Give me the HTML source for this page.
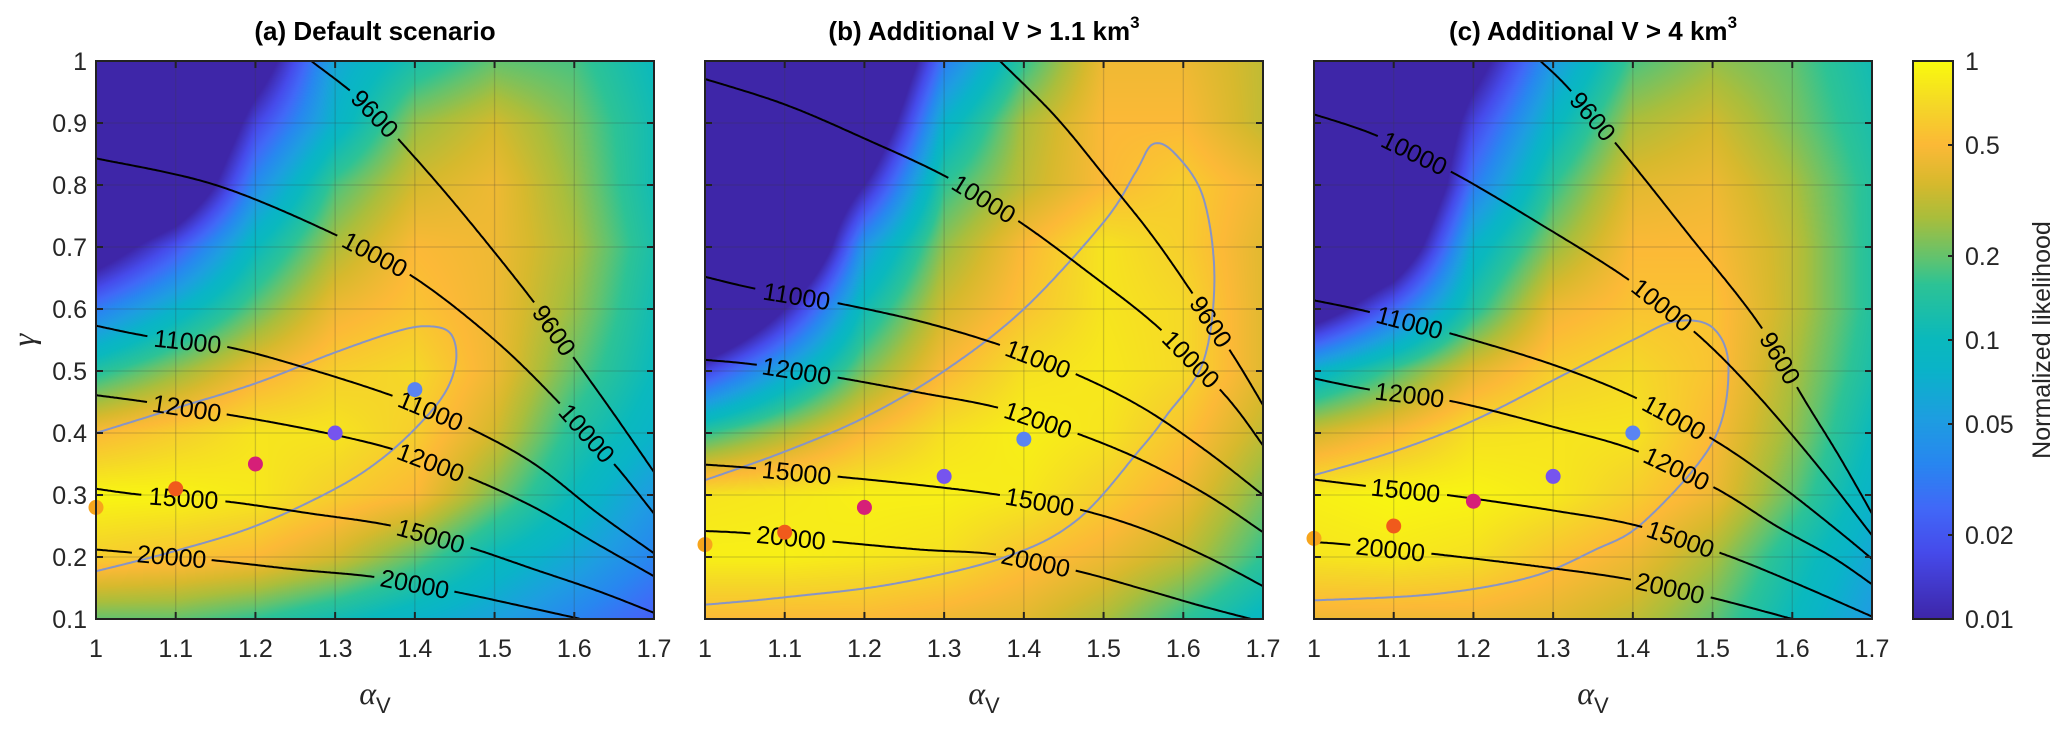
<!DOCTYPE html>
<html><head><meta charset="utf-8">
<style>
html,body{margin:0;padding:0;background:#fff;}
#root{position:relative;width:2067px;height:729px;overflow:hidden;background:#fff;font-family:"Liberation Sans",sans-serif;}
canvas{position:absolute;}
svg{position:absolute;left:0;top:0;}
</style></head>
<body>
<div id="root">
<canvas id="cvA" width="558" height="558" style="left:96px;top:61px"></canvas>
<canvas id="cvB" width="558" height="558" style="left:705px;top:61px"></canvas>
<canvas id="cvC" width="558" height="558" style="left:1314px;top:61px"></canvas>
<canvas id="cvBar" width="40" height="558" style="left:1913px;top:61px"></canvas>
<svg id="ov" width="2067" height="729"></svg>
</div>
<script>
// ---- data ----
const alphaCats = [1.0,1.1,1.2,1.3,1.4,1.5,1.6,1.7];
const gammaRows = [1.0,0.9,0.8,0.7,0.6,0.5,0.4,0.3,0.2,0.1];
const xTickLabels = ["1","1.1","1.2","1.3","1.4","1.5","1.6","1.7"];
const yTickLabels = ["1","0.9","0.8","0.7","0.6","0.5","0.4","0.3","0.2","0.1"];
const cbTicks = [1,0.5,0.2,0.1,0.05,0.02,0.01];
const cbTickLabels = ["1","0.5","0.2","0.1","0.05","0.02","0.01"];
// log10 normalized likelihood (values below -2 saturate), rows gamma 1.0 -> 0.1, cols alpha 1.0 -> 1.7
const heatA = [
[-3,-3,-2.3,-1.2,-0.9,-0.7,-0.75,-1.0],
[-3,-3,-1.8,-1.1,-0.6,-0.45,-0.65,-0.95],
[-3,-2.6,-1.4,-0.75,-0.45,-0.35,-0.6,-0.95],
[-2.3,-1.7,-1.0,-0.55,-0.3,-0.35,-0.55,-0.9],
[-1.5,-1.1,-0.7,-0.35,-0.25,-0.35,-0.6,-0.95],
[-0.85,-0.6,-0.35,-0.2,-0.15,-0.35,-0.7,-1.0],
[-0.3,-0.2,-0.1,-0.1,-0.2,-0.45,-0.85,-1.1],
[-0.02,-0.03,-0.08,-0.2,-0.3,-0.65,-1.0,-1.3],
[-0.2,-0.25,-0.3,-0.45,-0.7,-1.0,-1.2,-1.45],
[-0.7,-0.7,-0.8,-0.95,-1.1,-1.25,-1.45,-1.65]];
const heatB = [
[-3,-3,-3,-1.5,-0.8,-0.35,-0.35,-0.5],
[-3,-3,-2.6,-1.1,-0.55,-0.3,-0.3,-0.5],
[-3,-3,-2.0,-0.8,-0.5,-0.3,-0.2,-0.35],
[-3,-3,-1.3,-0.6,-0.3,-0.1,-0.2,-0.4],
[-3,-2.0,-0.95,-0.45,-0.25,-0.1,-0.15,-0.4],
[-1.8,-1.2,-0.65,-0.3,-0.12,-0.08,-0.15,-0.4],
[-0.8,-0.55,-0.3,-0.12,-0.05,-0.1,-0.25,-0.5],
[-0.1,-0.08,-0.05,-0.05,-0.08,-0.2,-0.35,-0.65],
[-0.05,-0.05,-0.08,-0.12,-0.25,-0.35,-0.5,-0.8],
[-0.3,-0.3,-0.3,-0.35,-0.4,-0.55,-0.8,-1.05]];
const heatC = [
[-3,-3,-2.2,-1.3,-0.75,-0.6,-0.7,-0.95],
[-3,-3,-1.8,-1.05,-0.55,-0.45,-0.65,-0.9],
[-3,-3,-1.5,-0.8,-0.4,-0.35,-0.55,-0.85],
[-3,-2.5,-1.1,-0.6,-0.3,-0.3,-0.5,-0.85],
[-2.3,-1.6,-0.85,-0.35,-0.25,-0.25,-0.5,-0.85],
[-1.1,-0.75,-0.4,-0.2,-0.15,-0.25,-0.55,-0.9],
[-0.45,-0.3,-0.12,-0.1,-0.1,-0.3,-0.6,-1.0],
[-0.05,-0.02,-0.03,-0.08,-0.2,-0.35,-0.7,-1.1],
[-0.1,-0.08,-0.12,-0.25,-0.35,-0.55,-0.9,-1.2],
[-0.35,-0.35,-0.35,-0.4,-0.5,-0.7,-1.0,-1.3]];

// contours [alpha, gamma]
const cA9600 = [[1.27,1.0],[1.33,0.94],[1.375,0.88],[1.45,0.77],[1.544,0.62],[1.6,0.52],[1.65,0.43],[1.7,0.337]];
const cA10000 = [[1.0,0.843],[1.15,0.8],[1.3,0.72],[1.4,0.65],[1.5,0.55],[1.58,0.45],[1.65,0.35],[1.7,0.27]];
const cA11000 = [[1.0,0.573],[1.07,0.555],[1.16,0.54],[1.25,0.51],[1.372,0.46],[1.465,0.41],[1.55,0.35],[1.63,0.27],[1.7,0.206]];
const cA12000 = [[1.0,0.461],[1.064,0.45],[1.164,0.43],[1.27,0.405],[1.372,0.374],[1.465,0.33],[1.55,0.28],[1.63,0.22],[1.7,0.169]];
const cA15000 = [[1.0,0.31],[1.06,0.30],[1.16,0.29],[1.27,0.27],[1.372,0.25],[1.465,0.217],[1.55,0.18],[1.63,0.145],[1.7,0.11]];
const cA20000 = [[1.0,0.212],[1.045,0.207],[1.145,0.195],[1.25,0.18],[1.354,0.167],[1.454,0.143],[1.53,0.122],[1.608,0.1]];
const cB9600 = [[1.37,1.0],[1.44,0.91],[1.504,0.81],[1.56,0.72],[1.609,0.63],[1.665,0.52],[1.7,0.445]];
const cB10000 = [[1.0,0.971],[1.1,0.93],[1.2,0.875],[1.303,0.813],[1.393,0.742],[1.48,0.66],[1.569,0.57],[1.653,0.46],[1.7,0.38]];
const cB11000 = [[1.0,0.652],[1.066,0.632],[1.164,0.61],[1.27,0.58],[1.37,0.542],[1.465,0.495],[1.55,0.44],[1.63,0.37],[1.7,0.30]];
const cB12000 = [[1.0,0.518],[1.065,0.51],[1.164,0.49],[1.27,0.465],[1.37,0.44],[1.465,0.40],[1.55,0.355],[1.63,0.30],[1.7,0.24]];
const cB15000 = [[1.0,0.349],[1.064,0.343],[1.164,0.33],[1.27,0.316],[1.37,0.30],[1.468,0.277],[1.55,0.245],[1.63,0.2],[1.7,0.153]];
const cB20000 = [[1.0,0.242],[1.057,0.238],[1.16,0.225],[1.27,0.212],[1.365,0.204],[1.465,0.178],[1.55,0.148],[1.62,0.122],[1.685,0.1]];
const cC9600 = [[1.284,1.0],[1.32,0.955],[1.385,0.857],[1.47,0.72],[1.556,0.58],[1.616,0.452],[1.66,0.36],[1.7,0.27]];
const cC10000 = [[1.0,0.914],[1.078,0.88],[1.174,0.82],[1.28,0.74],[1.395,0.647],[1.48,0.56],[1.55,0.47],[1.63,0.35],[1.7,0.235]];
const cC11000 = [[1.0,0.614],[1.07,0.595],[1.17,0.561],[1.3,0.51],[1.405,0.456],[1.5,0.39],[1.58,0.32],[1.65,0.25],[1.7,0.197]];
const cC12000 = [[1.0,0.488],[1.07,0.47],[1.17,0.452],[1.3,0.41],[1.405,0.371],[1.505,0.31],[1.58,0.25],[1.65,0.2],[1.7,0.156]];
const cC15000 = [[1.0,0.325],[1.063,0.315],[1.167,0.30],[1.3,0.275],[1.407,0.25],[1.513,0.205],[1.6,0.16],[1.7,0.104]];
const cC20000 = [[1.0,0.224],[1.042,0.22],[1.15,0.205],[1.28,0.185],[1.395,0.164],[1.5,0.134],[1.6,0.1]];
const lA = [[1.35,1.575],[1.35,1.616],[1.115,1.42],[1.114,1.42],[1.11,1.42],[1.095,1.40]];
const lB = [[1.635],[1.35,1.61],[1.115,1.418],[1.115,1.418],[1.115,1.42],[1.108,1.415]];
const lC = [[1.35,1.585],[1.126,1.437],[1.12,1.452],[1.12,1.455],[1.115,1.46],[1.096,1.447]];
const levels = ["9600","10000","11000","12000","15000","20000"];
const ellA = [[1.0,0.40],[1.1,0.44],[1.2,0.48],[1.3,0.53],[1.38,0.565],[1.42,0.572],[1.445,0.56],[1.452,0.52],[1.44,0.47],[1.41,0.42],[1.36,0.36],[1.3,0.31],[1.2,0.25],[1.1,0.21],[1.0,0.177]];
const ellB = [[1.0,0.324],[1.1,0.37],[1.2,0.425],[1.3,0.5],[1.4,0.6],[1.5,0.74],[1.54,0.82],[1.562,0.866],[1.59,0.85],[1.625,0.78],[1.639,0.65],[1.625,0.515],[1.58,0.43],[1.546,0.374],[1.467,0.26],[1.377,0.2],[1.238,0.157],[1.1,0.135],[1.0,0.123]];
const ellC = [[1.0,0.332],[1.1,0.37],[1.2,0.42],[1.318,0.497],[1.4,0.55],[1.453,0.58],[1.5,0.57],[1.52,0.505],[1.5,0.385],[1.414,0.257],[1.35,0.21],[1.27,0.167],[1.15,0.14],[1.0,0.13]];
const dotAlpha = [1.0,1.1,1.2,1.3,1.4];
const dotGammaA = [0.28,0.31,0.35,0.40,0.47];
const dotGammaB = [0.22,0.24,0.28,0.33,0.39];
const dotGammaC = [0.23,0.25,0.29,0.33,0.40];
const dotColors = ["#f7a51c","#f05a1c","#d61f78","#7654ee","#5a84f2"];

// ---- layout ----
const T = 61, S = 558;
const panelsL = [96, 705, 1314];
function xs(L, a){ return L + (a-1)/0.7*S; }
function ys(g){ return T + (1-g)/0.9*S; }

const cmapStops = [[0,62,38,168],[0.12,70,75,235],[0.2,65,105,248],[0.28,40,135,240],[0.36,30,158,225],[0.45,10,180,200],[0.5,10,185,190],[0.6,45,195,150],[0.65,100,195,110],[0.72,170,190,60],[0.78,215,185,45],[0.85,252,185,55],[0.92,245,215,40],[1,249,251,14]];
function cmap(t){
  t=Math.max(0,Math.min(1,t));
  for(let i=1;i<cmapStops.length;i++){
    if(t<=cmapStops[i][0]){
      const a=cmapStops[i-1],b=cmapStops[i],f=(t-a[0])/(b[0]-a[0]);
      return [a[1]+(b[1]-a[1])*f,a[2]+(b[2]-a[2])*f,a[3]+(b[3]-a[3])*f];
    }
  }
  return [249,251,14];
}
function drawHeat(id, grid){
  const cv=document.getElementById(id),ctx=cv.getContext('2d');
  const img=ctx.createImageData(S,S);
  const nc=alphaCats.length-1, nr=gammaRows.length-1;
  for(let py=0;py<S;py++){
    const g = 1 - (py+0.5)/S*0.9;
    let r=(gammaRows[0]-g)/(gammaRows[0]-gammaRows[nr])*nr; r=Math.max(0,Math.min(nr-1e-6,r));
    const r0=Math.floor(r), fr=r-r0;
    for(let px=0;px<S;px++){
      const a = 1 + (px+0.5)/S*0.7;
      let c=(a-alphaCats[0])/(alphaCats[nc]-alphaCats[0])*nc; c=Math.max(0,Math.min(nc-1e-6,c));
      const c0=Math.floor(c), fc=c-c0;
      const v = grid[r0][c0]*(1-fr)*(1-fc)+grid[r0][c0+1]*(1-fr)*fc+grid[r0+1][c0]*fr*(1-fc)+grid[r0+1][c0+1]*fr*fc;
      const col=cmap((v+2)/2), k=(py*S+px)*4;
      img.data[k]=col[0];img.data[k+1]=col[1];img.data[k+2]=col[2];img.data[k+3]=255;
    }
  }
  ctx.putImageData(img,0,0);
}
drawHeat('cvA',heatA);drawHeat('cvB',heatB);drawHeat('cvC',heatC);
(function(){
  const cv=document.getElementById('cvBar'),ctx=cv.getContext('2d');
  for(let y=0;y<S;y++){const c=cmap(1-y/S);ctx.fillStyle=`rgb(${c[0]|0},${c[1]|0},${c[2]|0})`;ctx.fillRect(0,y,40,1);}
})();

const NS="http://www.w3.org/2000/svg";
const ov=document.getElementById('ov');
function mk(tag,attrs,parent){const e=document.createElementNS(NS,tag);for(const k in attrs)e.setAttribute(k,attrs[k]);(parent||ov).appendChild(e);return e;}
// Catmull-Rom densify
function smooth(pts){
  const out=[];
  for(let i=0;i<pts.length-1;i++){
    const p0=pts[Math.max(0,i-1)],p1=pts[i],p2=pts[i+1],p3=pts[Math.min(pts.length-1,i+2)];
    const n=Math.max(2,Math.ceil(Math.hypot(p2[0]-p1[0],p2[1]-p1[1])/2));
    for(let k=0;k<n;k++){
      const t=k/n,t2=t*t,t3=t2*t;
      out.push([0,1].map(j=>0.5*((2*p1[j])+(-p0[j]+p2[j])*t+(2*p0[j]-5*p1[j]+4*p2[j]-p3[j])*t2+(-p0[j]+3*p1[j]-3*p2[j]+p3[j])*t3)));
    }
  }
  out.push(pts[pts.length-1]);
  return out;
}

function drawPanel(pi, conts, labs, ell, dotG, title){
  const L=panelsL[pi];
  const g=mk('g',{});
  
  
  for(let i=1;i<7;i++){
    const x=xs(L,alphaCats[i]);
    const ln=mk('line',{x1:x,y1:T,x2:x,y2:T+S,stroke:'rgba(60,60,60,0.22)','stroke-width':1.3},g);
    
    
  }
  for(let i=1;i<9;i++){
    const y=ys(gammaRows[i]);
    const ln=mk('line',{x1:L,y1:y,x2:L+S,y2:y,stroke:'rgba(60,60,60,0.22)','stroke-width':1.3},g);
    
    
  }
  const ept=smooth(ell.map(p=>[xs(L,p[0]),ys(p[1])]));
  const ep=mk('path',{d:ept.map((p,i)=>(i?'L':'M')+p[0].toFixed(1)+','+p[1].toFixed(1)).join(''),fill:'none',stroke:'#8794c6','stroke-width':2},g);
  
  
  conts.forEach((c,ci)=>{
    const pts=c.map(p=>[xs(L,p[0]),ys(p[1])]);
    const dense=smooth(pts);
    const centers=labs[ci].map(a0=>{
      const X=xs(L,a0);
      for(let i=0;i<dense.length-1;i++){
        if(X>=dense[i][0]&&X<=dense[i+1][0]){
          const j0=Math.max(0,i-4),j1=Math.min(dense.length-1,i+5);
          const f=(X-dense[i][0])/((dense[i+1][0]-dense[i][0])||1);
          const Y=dense[i][1]+(dense[i+1][1]-dense[i][1])*f;
          const ang=Math.atan2(dense[j1][1]-dense[j0][1],dense[j1][0]-dense[j0][0])*180/Math.PI;
          return [X,Y,ang];
        }
      }
      return [X,ys(0.5),0];
    });
    const half=levels[ci].length*7.2+4;
    let d='',pen=false;
    dense.forEach(p=>{
      const hide=centers.some(cc=>Math.hypot(p[0]-cc[0],p[1]-cc[1])<half);
      if(hide){pen=false;return;}
      d+=(pen?'L':'M')+p[0].toFixed(1)+','+p[1].toFixed(1);pen=true;
    });
    const cp=mk('path',{d:d,fill:'none',stroke:'#000','stroke-width':2},g);
    
    
    centers.forEach(cc=>{
      const t=mk('text',{x:cc[0],y:cc[1]+9,'text-anchor':'middle','font-size':25,fill:'#000',transform:`rotate(${cc[2].toFixed(1)} ${cc[0].toFixed(1)} ${cc[1].toFixed(1)})`},g);
      t.textContent=levels[ci];
      
      
    });
  });
  dotAlpha.forEach((a,i)=>{
    const c=mk('circle',{cx:xs(L,a),cy:ys(dotG[i]),r:7.5,fill:dotColors[i]},g);
    
    
  });
  const fr=mk('rect',{x:L,y:T,width:S,height:S,fill:'none',stroke:'#222','stroke-width':2},g);
  
  
  for(let i=0;i<8;i++){
    const x=xs(L,alphaCats[i]);
    mk('line',{x1:x,y1:T+S,x2:x,y2:T+S-7,stroke:'#222','stroke-width':2},g);
    mk('line',{x1:x,y1:T,x2:x,y2:T+7,stroke:'#222','stroke-width':2},g);
    const t=mk('text',{x:x,y:657,'text-anchor':'middle','font-size':25,fill:'#262626'},g);
    t.textContent=xTickLabels[i];
    
    
  }
  for(let i=0;i<10;i++){
    const y=ys(gammaRows[i]);
    mk('line',{x1:L,y1:y,x2:L+7,y2:y,stroke:'#222','stroke-width':2},g);
    mk('line',{x1:L+S,y1:y,x2:L+S-7,y2:y,stroke:'#222','stroke-width':2},g);
    if(pi===0){
      const t=mk('text',{x:L-9,y:y+9,'text-anchor':'end','font-size':25,fill:'#262626'},g);
      t.textContent=yTickLabels[i];
      
      
    }
  }
  const xl=mk('text',{x:L+S/2,y:704,'text-anchor':'middle',fill:'#262626'},g);
  xl.innerHTML='<tspan font-family="Liberation Serif,serif" font-style="italic" font-size="32">α</tspan><tspan font-size="22" dy="9">V</tspan>';
  
  
  const tt=mk('text',{x:L+S/2,y:40,'text-anchor':'middle','font-size':26,'font-weight':'bold',fill:'#000'},g);
  tt.innerHTML=title;
  
  
}
drawPanel(0,[cA9600,cA10000,cA11000,cA12000,cA15000,cA20000],lA,ellA,dotGammaA,'(a) Default scenario');
drawPanel(1,[cB9600,cB10000,cB11000,cB12000,cB15000,cB20000],lB,ellB,dotGammaB,'(b) Additional V &gt; 1.1 km<tspan font-size="17" dy="-12">3</tspan>');
drawPanel(2,[cC9600,cC10000,cC11000,cC12000,cC15000,cC20000],lC,ellC,dotGammaC,'(c) Additional V &gt; 4 km<tspan font-size="17" dy="-12">3</tspan>');

const yl=mk('text',{x:34,y:340,'text-anchor':'middle','font-size':32,'font-family':'Liberation Serif,serif','font-style':'italic',fill:'#262626',transform:'rotate(-90 34 340)'});
yl.textContent='γ';



const cbL=1913,cbW=40;
const cbf=mk('rect',{x:cbL,y:T,width:cbW,height:S,fill:'none',stroke:'#222','stroke-width':2});


cbTicks.forEach((v,i)=>{
  const y=T+(-Math.log10(v))/2*S;
  mk('line',{x1:cbL+cbW,y1:y,x2:cbL+cbW-5,y2:y,stroke:'#222','stroke-width':2});
  const t=mk('text',{x:cbL+cbW+12,y:y+9,'font-size':25,fill:'#262626'});
  t.textContent=cbTickLabels[i];
  
  
});
const cl=mk('text',{x:2050,y:340,'text-anchor':'middle','font-size':25,fill:'#262626',transform:'rotate(-90 2050 340)'});
cl.textContent='Normalized likelihood';


</script>
</body></html>
